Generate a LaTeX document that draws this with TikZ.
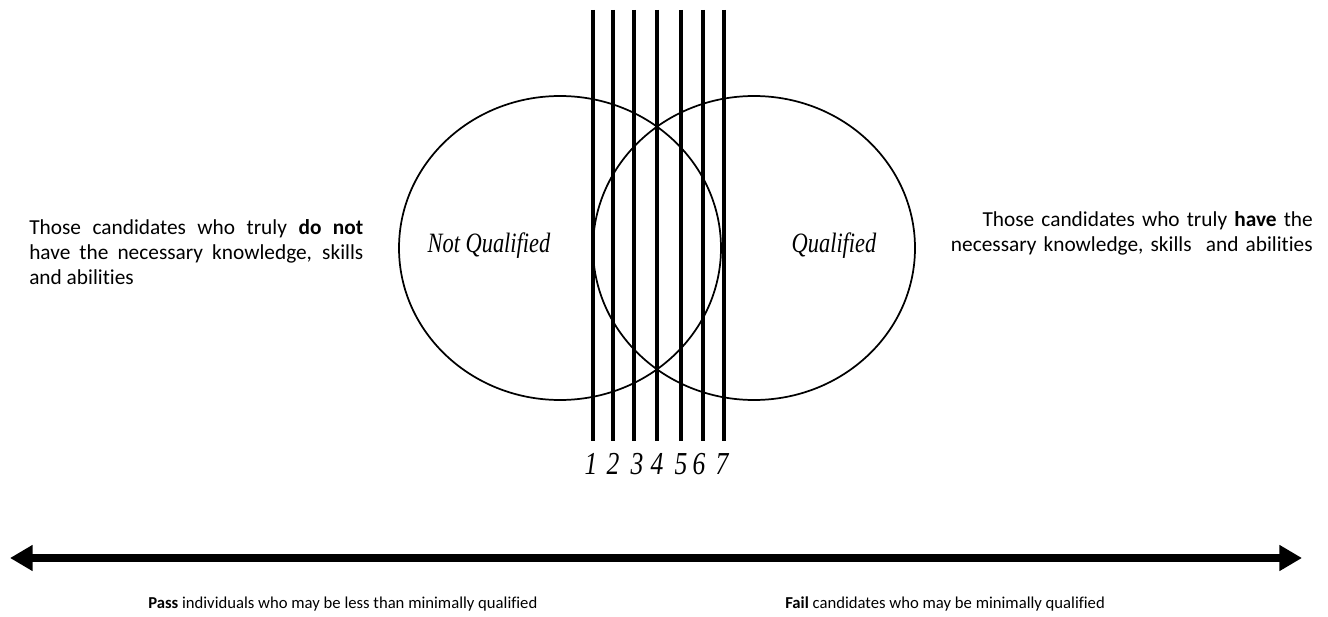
\documentclass[tikz,border=0pt]{standalone}
\usepackage{fontspec}
\setmainfont[Ligatures=NoCommon]{Carlito}
\newfontfamily\vennfont[FakeStretch=0.8]{Liberation Serif}
\usepackage{tikz}
\usetikzlibrary{arrows.meta,positioning,shapes.geometric}
\tikzset{
	venn/.style={draw, ellipse, line width=1.3pt, inner sep=0pt,
		minimum width=241.5pt, minimum height=228pt},
	cut/.style={line width=3pt},
	vlbl/.style={font=\vennfont\itshape\fontsize{21}{24}\selectfont, inner sep=0pt, anchor=base},
	num/.style={font=\vennfont\itshape\fontsize{24}{26}\selectfont, inner sep=0pt, anchor=base},
	note/.style={font=\fontsize{16}{19}\selectfont, inner sep=0pt, text width=250.5pt},
	foot/.style={font=\fontsize{12.5}{15}\selectfont, inner sep=0pt, anchor=base west},
	axis/.style={line width=6.5pt, {Triangle[length=17pt,width=18.5pt]}-{Triangle[length=17pt,width=18.5pt]}},
}
\begin{document}
\begin{tikzpicture}[x=0.75pt, y=-0.75pt]
	\useasboundingbox (0,0) rectangle (1328,617);
	% the two populations
	\node[venn] at (560,248) (nqset) {};
	\node[venn] at (754,248) (qset) {};
	\node[vlbl] at (489,252) (nqlbl) {Not Qualified};
	\node[vlbl] at (834,252) (qlbl) {Qualified};
	% cut scores
	\foreach \n/\lx/\dx in {1/593/591, 2/613/613, 3/634/637, 4/657/657, 5/681/681, 6/703/699, 7/724/722} {
		\coordinate (top\n) at (\lx,10);
		\coordinate (bot\n) at (\lx,441);
		\draw[cut] (top\n) -- (bot\n);
		\node[num] at (\dx,474) (d\n) {\n};
	}
	% side notes
	\node[note, align=justify, anchor=north west] at (29,219) (lnote)
		{Those candidates who truly \textbf{do not}\linebreak have the necessary knowledge, skills\linebreak and abilities};
	\node[note, text width=300pt, align=right, anchor=north east] at (1313,211) (rnote)
		{Those candidates who truly \textbf{have} the\\necessary knowledge, skills\ \ and abilities};
	% decision continuum
	\coordinate (lt) at (10,558);
	\coordinate (rt) at (1302,558);
	\draw[axis] (lt) -- (rt);
	\node[foot] at (148,608) (pass) {\textbf{Pass} individuals who may be less than minimally qualified};
	\node[foot] at (785,608) (fail) {\textbf{Fail} candidates who may be minimally qualified};
\end{tikzpicture}
\end{document}
